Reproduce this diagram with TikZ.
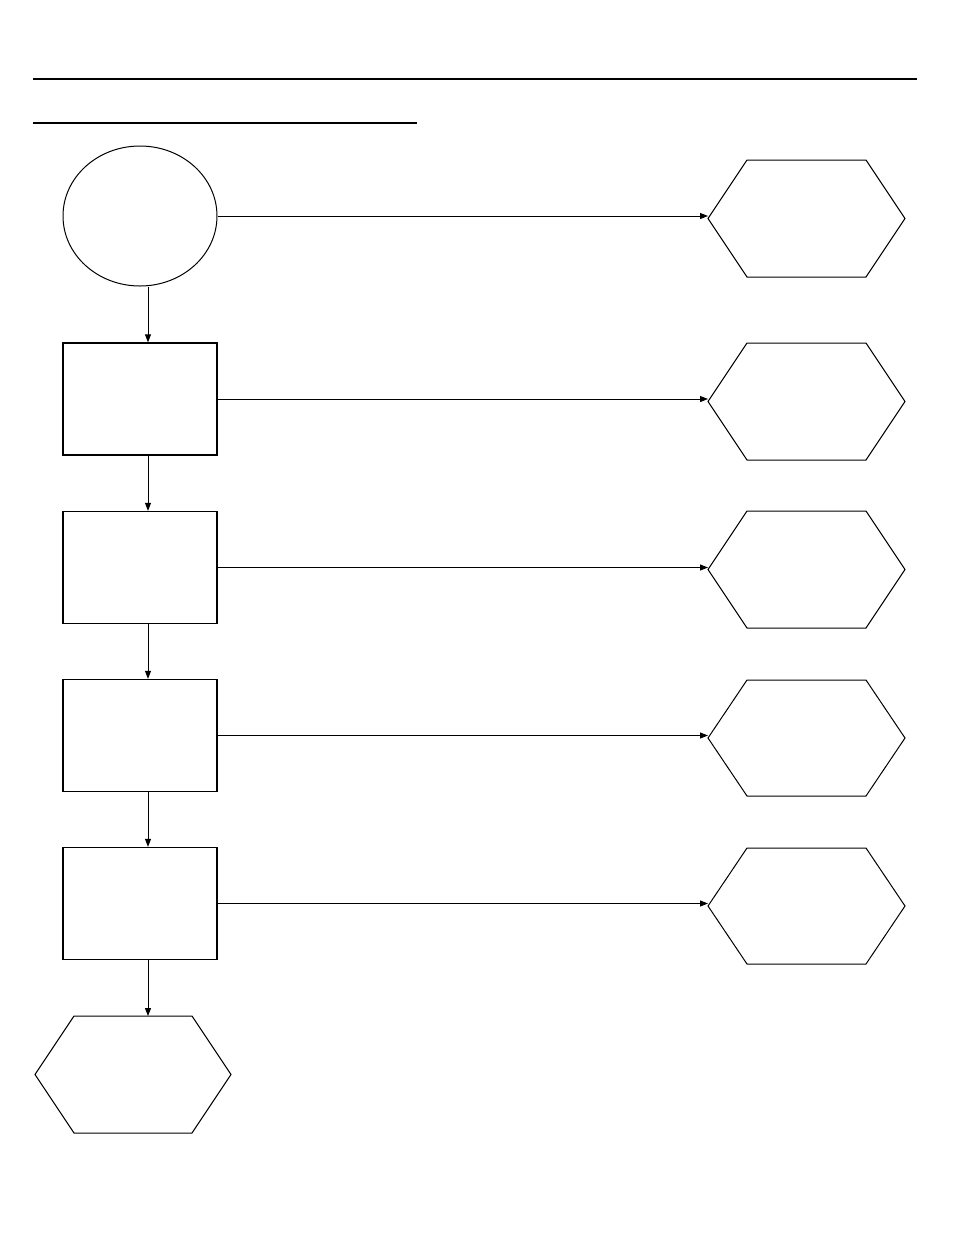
\documentclass[tikz,border=0pt]{standalone}
\usetikzlibrary{arrows.meta,shapes.geometric}
\tikzset{every picture/.style={line width=1pt}}
\tikzset{
  stagebox/.style={draw, rectangle, minimum width=154pt, minimum height=112pt, inner sep=0pt, line width=1.3pt},
  startoval/.style={draw, ellipse, minimum width=154pt, minimum height=140pt, inner sep=0pt},
  flowarrow/.style={-{Triangle[length=8pt,width=6pt]}}
}
% hexagon: name, centre x, centre y, half width, half flat, half height
\newcommand{\hexat}[6]{%
  \draw (#2-#4,#3) -- (#2-#5,#3-#6) -- (#2+#5,#3-#6) -- (#2+#4,#3) -- (#2+#5,#3+#6) -- (#2-#5,#3+#6) -- cycle;
  \coordinate (#1-w) at (#2-#4,#3);
  \coordinate (#1-n) at (#2-#5+20,#3-#6);
}
\begin{document}
\begin{tikzpicture}[x=1pt,y=1pt,yscale=-1]
	\useasboundingbox (0,0) rectangle (954,1235);
	
	% header rules
	\coordinate (ruleA-l) at (33,79);
	\coordinate (ruleA-r) at (917,79);
	\coordinate (ruleB-l) at (33,123);
	\coordinate (ruleB-r) at (417,123);
	\draw [line width=2pt] (ruleA-l) -- (ruleA-r);
	\draw [line width=2pt] (ruleB-l) -- (ruleB-r);
	
	% left column
	\node [startoval] (start) at (140,216) {};
	\node [stagebox] (s1) at (140,399) {};
	\node [stagebox] (s2) at (140,567.5) {};
	\node [stagebox] (s3) at (140,735.5) {};
	\node [stagebox] (s4) at (140,903.5) {};
	\coordinate (colx) at (148,287);
	
	% right column outcomes
	\hexat{o0}{806.5}{218.5}{98.5}{59.5}{58.5}
	\hexat{o1}{806.5}{401.5}{98.5}{59.5}{58.5}
	\hexat{o2}{806.5}{569.5}{98.5}{59.5}{58.5}
	\hexat{o3}{806.5}{738}{98.5}{59.5}{58}
	\hexat{o4}{806.5}{906}{98.5}{59.5}{58}
	% final
	\hexat{fin}{133}{1074.5}{98}{59}{58.5}
	
	% horizontal connectors
	\draw [flowarrow] (start.east) -- (start.east -| o0-w);
	\draw [flowarrow] (s1.east) -- (s1.east -| o1-w);
	\draw [flowarrow] (s2.east) -- (s2.east -| o2-w);
	\draw [flowarrow] (s3.east) -- (s3.east -| o3-w);
	\draw [flowarrow] (s4.east) -- (s4.east -| o4-w);
	
	% vertical connectors
	\draw [flowarrow] (colx) -- (colx |- s1.north);
	\draw [flowarrow] (colx |- s1.south) -- (colx |- s2.north);
	\draw [flowarrow] (colx |- s2.south) -- (colx |- s3.north);
	\draw [flowarrow] (colx |- s3.south) -- (colx |- s4.north);
	\draw [flowarrow] (colx |- s4.south) -- (colx |- fin-n);
	
\end{tikzpicture}
\end{document}
